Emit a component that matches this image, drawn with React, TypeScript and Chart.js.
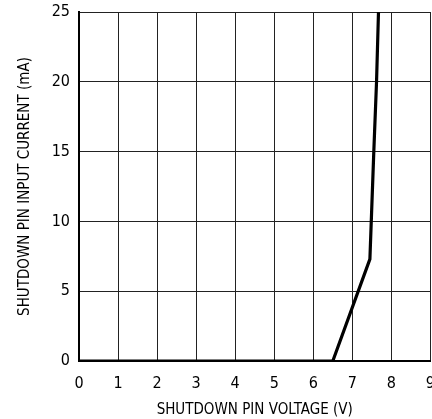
import React, { useEffect, useRef } from "react";
import { Chart, registerables } from "chart.js";

Chart.register(...registerables);

const voltage = [0, 6.5, 7.45, 7.55, 7.62, 7.67];
const current = [0, 0, 7.3, 15, 20, 25];
const xTicks = [0, 1, 2, 3, 4, 5, 6, 7, 8, 9];
const yTicks = [0, 5, 10, 15, 20, 25];

const FONT = '"Liberation Sans Narrow", "DejaVu Sans Condensed", "Roboto Condensed", Arial, sans-serif';
const W = 448;

export default function App() {
  const ref = useRef<HTMLCanvasElement | null>(null);
  useEffect(() => {
    document.documentElement.style.overflow = "hidden";
    document.body.style.margin = "0";
    document.body.style.overflow = "hidden";
    const ctx = ref.current!;
    const chart = new Chart(ctx, {
      type: "line",
      data: {
        datasets: [
          {
            data: voltage.map((v, i) => ({ x: v, y: current[i] })),
            borderColor: "#000",
            borderWidth: 3.2,
            pointRadius: 0,
            tension: 0,
            fill: false,
          },
        ],
      },
      options: {
        animation: false,
        responsive: false,
        maintainAspectRatio: false,
        layout: { padding: { top: 12, right: 0, left: 0, bottom: 0 } },
        plugins: { legend: { display: false }, tooltip: { enabled: false } },
        scales: {
          x: {
            type: "linear",
            min: 0,
            max: 9,
            afterBuildTicks: (s: any) => {
              s.ticks = xTicks.map((v) => ({ value: v }));
            },
            afterFit: (s: any) => {
              s.height = 58;
            },
            ticks: {
              color: "#000",
              font: { family: FONT, size: 16 },
              padding: 13,
              maxRotation: 0,
              autoSkip: false,
            },
            grid: { color: "#222", lineWidth: 1, drawTicks: false },
            border: { color: "#000", width: 2 },
            title: {
              display: true,
              text: "SHUTDOWN PIN VOLTAGE (V)",
              color: "#000",
              font: { family: FONT, size: 15 },
              padding: { top: 2, bottom: 0 },
            },
          },
          y: {
            type: "linear",
            min: 0,
            max: 25,
            afterBuildTicks: (s: any) => {
              s.ticks = yTicks.map((v) => ({ value: v }));
            },
            afterFit: (s: any) => {
              s.width = 79;
              s.paddingTop = 0;
              s.paddingBottom = 0;
            },
            ticks: {
              color: "#000",
              font: { family: FONT, size: 16 },
              padding: 9,
              autoSkip: false,
            },
            grid: { color: "#222", lineWidth: 1, drawTicks: false },
            border: { color: "#000", width: 2 },
            title: {
              display: true,
              text: "SHUTDOWN PIN INPUT CURRENT (mA)",
              color: "#000",
              font: { family: FONT, size: 15 },
              padding: { top: 16, bottom: 0 },
            },
          },
        },
      },
    });
    return () => chart.destroy();
  }, []);
  return (
    <div style={{ position: "absolute", left: 0, top: 0, width: W, height: 419 }}>
      <canvas ref={ref} width={W} height={419} style={{ width: W, height: 419, display: "block" }} />
    </div>
  );
}
